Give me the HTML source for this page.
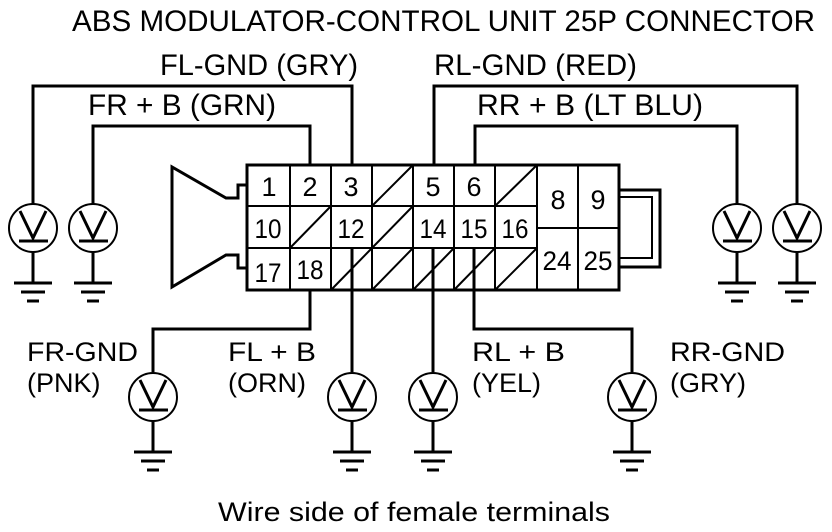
<!DOCTYPE html>
<html><head><meta charset="utf-8"><style>
html,body{margin:0;padding:0;background:#fff;width:832px;height:532px;overflow:hidden}
text{font-family:"Liberation Sans",sans-serif;fill:#000}
</style></head><body>
<svg width="832" height="532" viewBox="0 0 832 532" xmlns="http://www.w3.org/2000/svg">
<defs>
<g id="g">
<circle cx="0" cy="0" r="24" fill="#fff" stroke="#000" stroke-width="2"/>
<polyline points="-13,-17 0,10 13,-17" fill="none" stroke="#000" stroke-width="3"/>
<line x1="-14" y1="13" x2="15" y2="13" stroke="#000" stroke-width="3"/>
<line x1="0" y1="24" x2="0" y2="55" stroke="#000" stroke-width="3"/>
<line x1="-19" y1="55" x2="19" y2="55" stroke="#000" stroke-width="3"/>
<line x1="-12" y1="64" x2="12" y2="64" stroke="#000" stroke-width="3"/>
<line x1="-6" y1="73" x2="6" y2="73" stroke="#000" stroke-width="3"/>
</g>
</defs>
<g stroke="#000" stroke-width="3" fill="none">
<polyline points="33,204 33,86 352,86 352,165"/>
<polyline points="93,204 93,126 310,126 310,165"/>
<polyline points="434,165 434,86 797,86 797,204"/>
<polyline points="475,165 475,126 737,126 737,204"/>
<polyline points="310,248 310,329 153,329 153,372"/>
<polyline points="352,248 352,372"/>
<polyline points="433,248 433,372"/>
<polyline points="474,248 474,329 632,329 632,372"/>
<polyline points="247,185 238,185 238,198 226,198 172,167 172,287 226,255 238,255 238,268 247,268"/>
<polyline points="619,190 660,190 660,267 619,267"/>
<polyline points="619,197 652,197 652,258 619,258" stroke-width="2"/>
<rect x="247" y="165" width="372" height="125" fill="#fff"/>
<line x1="247" y1="206" x2="537" y2="206" stroke-width="2"/>
<line x1="247" y1="248" x2="537" y2="248" stroke-width="2"/>
<line x1="537" y1="228" x2="619" y2="228" stroke-width="2"/>
<g stroke-width="2">
<line x1="290" y1="165" x2="290" y2="290"/>
<line x1="331" y1="165" x2="331" y2="290"/>
<line x1="372" y1="165" x2="372" y2="290"/>
<line x1="413" y1="165" x2="413" y2="290"/>
<line x1="454" y1="165" x2="454" y2="290"/>
<line x1="495" y1="165" x2="495" y2="290"/>
<line x1="537" y1="165" x2="537" y2="290"/>
<line x1="578" y1="165" x2="578" y2="290"/>
<line x1="372" y1="206" x2="413" y2="165"/>
<line x1="495" y1="206" x2="537" y2="165"/>
<line x1="290" y1="248" x2="331" y2="206"/>
<line x1="372" y1="248" x2="413" y2="206"/>
<line x1="331" y1="290" x2="372" y2="248"/>
<line x1="372" y1="290" x2="413" y2="248"/>
<line x1="413" y1="290" x2="454" y2="248"/>
<line x1="454" y1="290" x2="495" y2="248"/>
<line x1="495" y1="290" x2="537" y2="248"/>
</g>
<line x1="352" y1="248" x2="352" y2="290"/>
<line x1="433" y1="248" x2="433" y2="290"/>
<line x1="474" y1="248" x2="474" y2="290"/>
</g>
<g font-size="27" text-anchor="middle">
<text x="269" y="196">1</text><text x="310" y="196">2</text><text x="351" y="196">3</text>
<text x="433" y="196">5</text><text x="474" y="196">6</text>
<text x="558" y="209">8</text><text x="598" y="209">9</text>
<text x="268" y="238" textLength="27" lengthAdjust="spacingAndGlyphs">10</text>
<text x="351" y="238" textLength="27" lengthAdjust="spacingAndGlyphs">12</text>
<text x="433" y="238" textLength="27" lengthAdjust="spacingAndGlyphs">14</text>
<text x="474" y="238" textLength="27" lengthAdjust="spacingAndGlyphs">15</text>
<text x="515" y="238" textLength="27" lengthAdjust="spacingAndGlyphs">16</text>
<text x="268" y="282" textLength="27" lengthAdjust="spacingAndGlyphs">17</text>
<text x="310" y="279" textLength="27" lengthAdjust="spacingAndGlyphs">18</text>
<text x="557" y="270" textLength="29" lengthAdjust="spacingAndGlyphs">24</text>
<text x="598" y="270" textLength="29" lengthAdjust="spacingAndGlyphs">25</text>
</g>
<use href="#g" x="33" y="228"/><use href="#g" x="93" y="228"/>
<use href="#g" x="737" y="228"/><use href="#g" x="797" y="228"/>
<use href="#g" x="153" y="397"/><use href="#g" x="352" y="397"/>
<use href="#g" x="433" y="397"/><use href="#g" x="632" y="397"/>
<g font-size="30">
<text x="72" y="31" textLength="743" lengthAdjust="spacingAndGlyphs">ABS MODULATOR-CONTROL UNIT 25P CONNECTOR</text>
<text x="160" y="75" textLength="198" lengthAdjust="spacingAndGlyphs">FL-GND (GRY)</text>
<text x="434" y="75" textLength="203" lengthAdjust="spacingAndGlyphs">RL-GND (RED)</text>
<text x="88" y="115" textLength="188" lengthAdjust="spacingAndGlyphs">FR  + B (GRN)</text>
<text x="477" y="115" textLength="226" lengthAdjust="spacingAndGlyphs">RR  + B (LT BLU)</text>
</g>
<g font-size="27">
<text x="27" y="361" textLength="111" lengthAdjust="spacingAndGlyphs">FR-GND</text>
<text x="27" y="392">(PNK)</text>
<text x="228" y="361" textLength="88" lengthAdjust="spacingAndGlyphs">FL  + B</text>
<text x="228" y="392">(ORN)</text>
<text x="472" y="361" textLength="93" lengthAdjust="spacingAndGlyphs">RL  + B</text>
<text x="472" y="392">(YEL)</text>
<text x="670" y="361" textLength="115" lengthAdjust="spacingAndGlyphs">RR-GND</text>
<text x="670" y="392">(GRY)</text>
<text x="218" y="521" textLength="392" lengthAdjust="spacingAndGlyphs">Wire side of female terminals</text>
</g>
</svg>
</body></html>
